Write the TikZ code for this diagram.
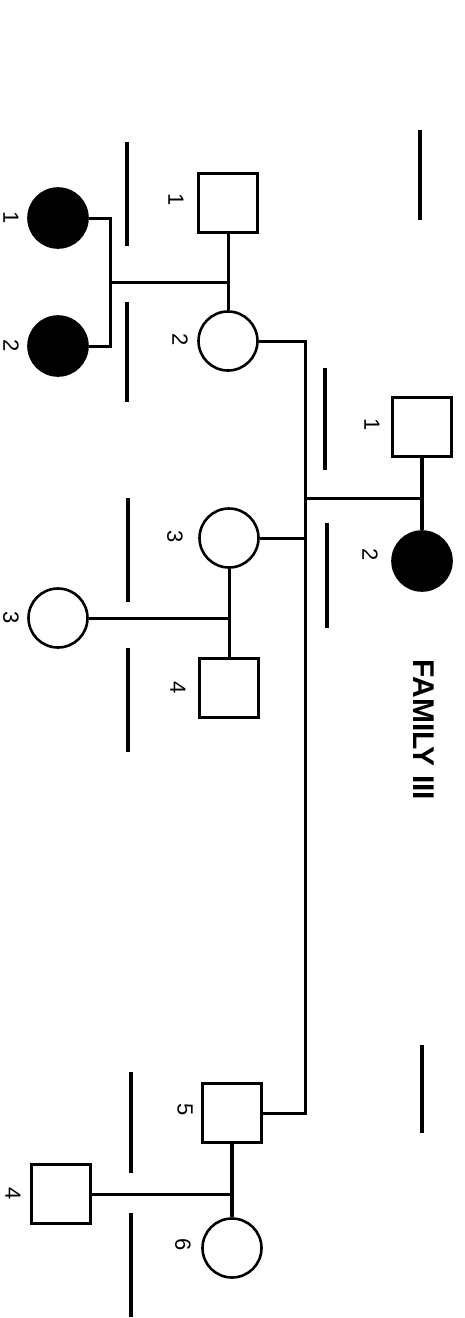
\documentclass[tikz,border=0pt]{standalone}
\usepackage{fontspec}
\setmainfont{Liberation Sans}
\begin{document}
\begin{tikzpicture}[x=1pt,y=-1pt,
  male/.style={draw,line width=2.6pt,rectangle,minimum size=59pt,inner sep=0pt},
  female/.style={draw,line width=2.6pt,circle,minimum size=59pt,inner sep=0pt},
  affected/.style={fill=black},
  conn/.style={line width=3pt},
  sep/.style={line width=3.2pt},
  num/.style={rotate=-90,font=\fontsize{22}{22}\selectfont,inner sep=0pt},
  title/.style={rotate=-90,font=\fontsize{30}{30}\selectfont\bfseries,inner sep=0pt}]
\useasboundingbox (0,0) rectangle (465,1318);

% generation II
\node[male] (g2m) at (422,427) {};
\node[female,affected] (g2f) at (422,561) {};
% generation III
\node[male] (s1) at (228,203) {};
\node[female] (s2) at (228,341) {};
\node[female] (s3) at (229,538) {};
\node[male] (s4) at (229,688) {};
\node[male] (s5) at (232,1113) {};
\node[female] (s6) at (232,1248) {};
% generation IV
\node[female,affected] (c1) at (58,218) {};
\node[female,affected] (c2) at (58,346) {};
\node[female] (c3) at (58,618) {};
\node[male] (c4) at (61,1194) {};

% labels
\node[num] (l21) at (372,425) {1};
\node[num] (l22) at (370,555) {2};
\node[num] (l31) at (176,200) {1};
\node[num] (l32) at (180,340) {2};
\node[num] (l33) at (175,537) {3};
\node[num] (l34) at (178,688) {4};
\node[num] (l35) at (185,1110) {5};
\node[num] (l36) at (183,1245) {6};
\node[num] (l41) at (11,218) {1};
\node[num] (l42) at (11,346) {2};
\node[num] (l43) at (11,618) {3};
\node[num] (l44) at (13,1194) {4};
\node[title] (ttl) at (424,730) {FAMILY III};

% junction coordinates
\coordinate (j0) at (422,498);
\coordinate (st) at (305,341);
\coordinate (sm) at (305,498);
\coordinate (s3j) at (305,538);
\coordinate (sb) at (305,1113);
\coordinate (j1) at (228,282);
\coordinate (k1) at (110,282);
\coordinate (k1a) at (110,218);
\coordinate (k1b) at (110,346);
\coordinate (j3) at (229,618);
\coordinate (j5) at (232,1194);

% connectors
\draw[conn,line width=3.6pt] (g2m.south) -- (g2f.north);
\draw[conn] (j0) -- (sm);
\draw[conn] (s2.east) -- (st) -- (sb) -- (s5.east);
\draw[conn] (s3.east) -- (s3j);
\draw[conn] (s1.south) -- (s2.north);
\draw[conn] (j1) -- (k1);
\draw[conn] (c1.east) -- (k1a) -- (k1b) -- (c2.east);
\draw[conn] (s3.south) -- (s4.north);
\draw[conn] (j3) -- (c3.east);
\draw[conn,line width=3.6pt] (s5.south) -- (s6.north);
\draw[conn] (j5) -- (c4.east);

% generation separator marks
\draw[sep] (420,130) -- (420,220);
\draw[sep] (127,142) -- (127,246);
\draw[sep] (127,302) -- (127,402);
\draw[sep] (325,368) -- (325,470);
\draw[sep] (327,523) -- (327,628);
\draw[sep] (128,498) -- (128,602);
\draw[sep] (128,648) -- (128,752);
\draw[sep] (131,1072) -- (131,1173);
\draw[sep] (131,1213) -- (131,1317);
\draw[sep] (422,1045) -- (422,1133);
\end{tikzpicture}
\end{document}
